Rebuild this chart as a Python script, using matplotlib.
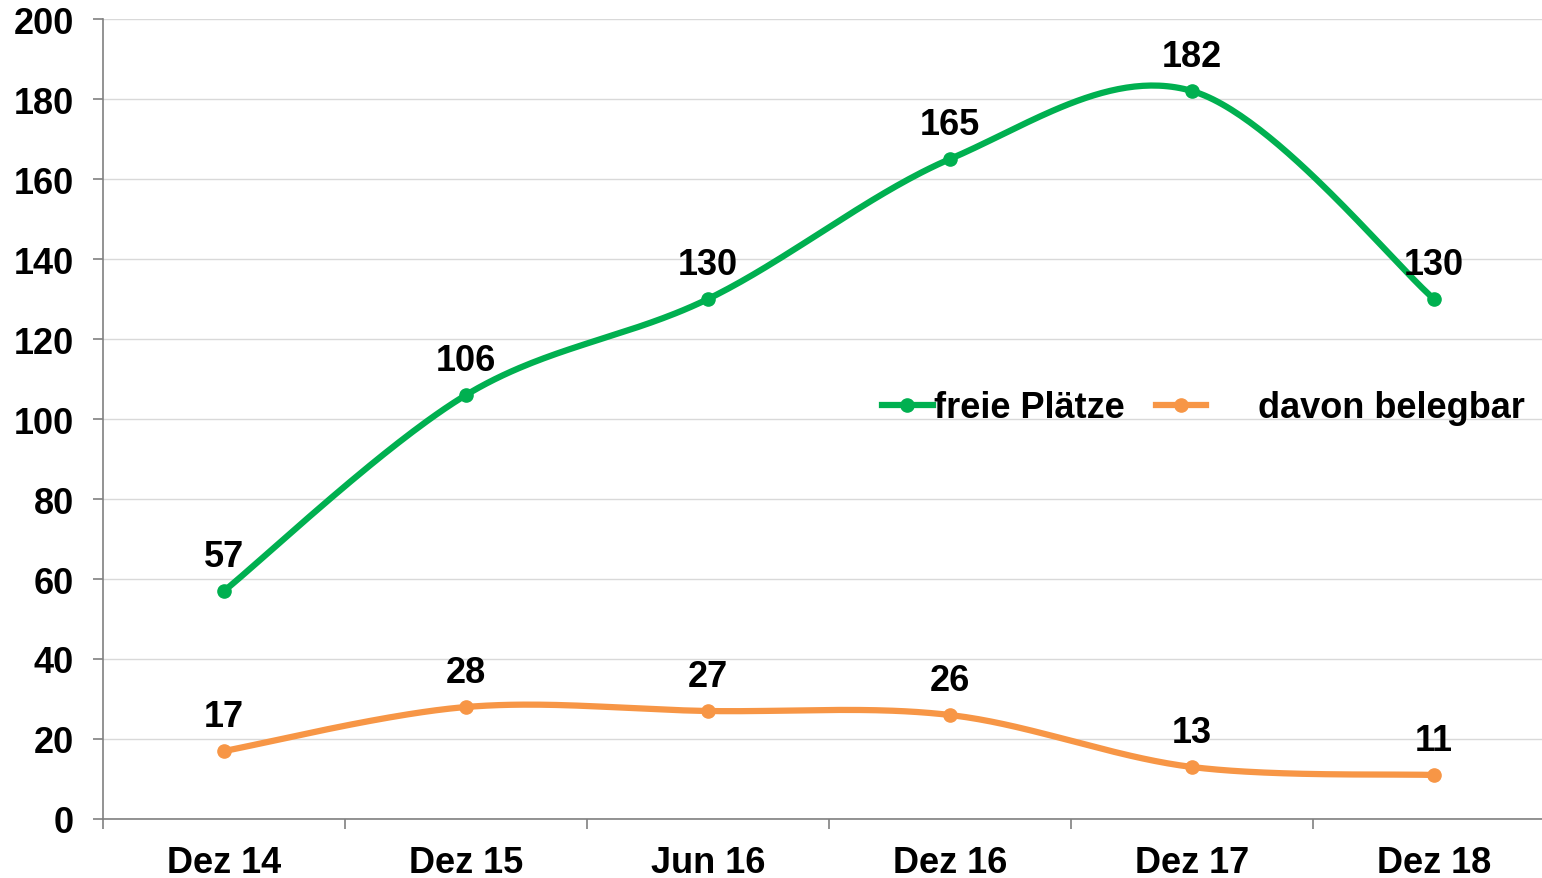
import numpy as np
import matplotlib
matplotlib.use("Agg")
import matplotlib.pyplot as plt
from matplotlib.ticker import MultipleLocator, FixedLocator

plt.rcParams["font.family"] = ["Liberation Sans", "DejaVu Sans"]
plt.rcParams["font.weight"] = "bold"

categories = ["Dez 14", "Dez 15", "Jun 16", "Dez 16", "Dez 17", "Dez 18"]
freie_plaetze = [57, 106, 130, 165, 182, 130]
davon_belegbar = [17, 28, 27, 26, 13, 11]

GREEN = "#00B050"
ORANGE = "#F79646"
FS = 26


def smooth(x, y, n=60):
    # Excel-like smoothing: cubic Bezier through points (Catmull-Rom, tension 1/6)
    x = np.asarray(x, float)
    y = np.asarray(y, float)
    px = np.concatenate([[x[0]], x, [x[-1]]])
    py = np.concatenate([[y[0]], y, [y[-1]]])
    xs, ys = [], []
    t = np.linspace(0, 1, n)
    for i in range(1, len(px) - 2):
        p0 = np.array([px[i], py[i]])
        p3 = np.array([px[i + 1], py[i + 1]])
        c1 = p0 + (np.array([px[i + 1], py[i + 1]]) - np.array([px[i - 1], py[i - 1]])) / 6
        c2 = p3 - (np.array([px[i + 2], py[i + 2]]) - np.array([px[i], py[i]])) / 6
        b = ((1 - t) ** 3)[:, None] * p0 + (3 * (1 - t) ** 2 * t)[:, None] * c1 \
            + (3 * (1 - t) * t ** 2)[:, None] * c2 + (t ** 3)[:, None] * p3
        xs.append(b[:, 0])
        ys.append(b[:, 1])
    return np.concatenate(xs), np.concatenate(ys)


fig = plt.figure(figsize=(15.42, 8.79), dpi=100)
ax = fig.add_axes([103 / 1542, 59 / 879, (1542 - 103) / 1542, 800 / 879])

xpos = np.arange(len(categories))
for vals, col, lab in [(freie_plaetze, GREEN, "freie Plätze"),
                       (davon_belegbar, ORANGE, "     davon belegbar")]:
    sx, sy = smooth(xpos, vals)
    ax.plot(sx, sy, color=col, lw=4.5, solid_capstyle="round", zorder=3)
    ax.plot(xpos, vals, "o", color=col, ms=9.5, zorder=4)
    ax.plot([], [], color=col, lw=4.5, marker="o", ms=9.5, label=lab)
    for xi, v in zip(xpos, vals):
        ax.annotate(str(v), (xi, v), xytext=(0, 25), textcoords="offset points",
                    ha="center", va="center", fontsize=FS, fontweight="bold")

ax.set_ylim(0, 200)
ax.set_xlim(-0.5, -0.5 + (1542 - 103) / 242)
ax.yaxis.set_major_locator(MultipleLocator(20))
ax.grid(axis="y", color="#D9D9D9", lw=1)
ax.set_axisbelow(True)

ax.set_xticks(xpos)
ax.set_xticklabels(categories)
ax.xaxis.set_minor_locator(FixedLocator(np.arange(-0.5, 6, 1)))
ax.tick_params(axis="x", which="major", length=0, pad=19, labelsize=FS)
ax.tick_params(axis="x", which="minor", length=7, width=1.2, color="#808080")
ax.tick_params(axis="y", length=7, width=1.2, color="#808080", pad=14, labelsize=FS)

for s in ["top", "right"]:
    ax.spines[s].set_visible(False)
for s in ["left", "bottom"]:
    ax.spines[s].set_color("#808080")
    ax.spines[s].set_linewidth(1.2)

ax.legend(loc="center left", bbox_to_anchor=((882 - 103) / 1439, (879 - 409 - 59) / 800),
          ncol=2, frameon=False, fontsize=FS, handlelength=1.4,
          handletextpad=0.05, columnspacing=0.85, borderpad=0, borderaxespad=0)

fig.savefig("out.png", dpi=100)
